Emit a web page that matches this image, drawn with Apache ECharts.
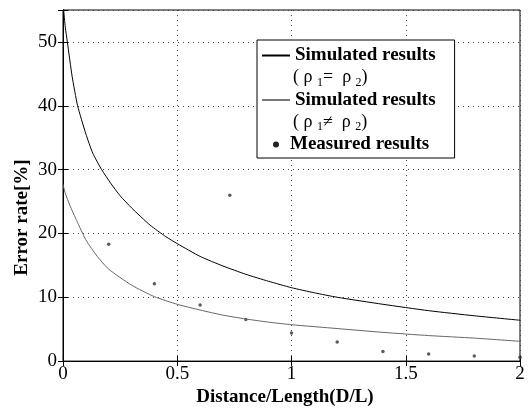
<!DOCTYPE html>
<html>
<head>
<meta charset="utf-8">
<script src="https://cdn.jsdelivr.net/npm/echarts@6/dist/echarts.min.js"></script>
<style>html,body{margin:0;padding:0;background:#fff}#c{width:528px;height:412px}</style>
</head>
<body>
<div id="c"></div>
<script>
// Simulated results (rho1 = rho2) — upper curve
const simEqX = [0.003, 0.01, 0.019, 0.04, 0.064, 0.1, 0.13, 0.169, 0.21, 0.25, 0.3, 0.381, 0.45, 0.5, 0.6, 0.7, 0.8, 0.9, 1.0, 1.1, 1.2, 1.4, 1.6, 1.8, 2.0];
const simEqY = [55, 52.3, 50, 44.6, 40, 35.6, 32.6, 30, 27.8, 25.9, 24.0, 21.3, 19.5, 18.4, 16.4, 14.9, 13.6, 12.5, 11.5, 10.7, 10.0, 8.9, 7.9, 7.1, 6.4];
// Simulated results (rho1 != rho2) — lower curve
const simNeX = [0, 0.01, 0.03, 0.06, 0.1, 0.15, 0.2, 0.3, 0.4, 0.5, 0.6, 0.7, 0.8, 0.9, 1.0, 1.2, 1.4, 1.6, 1.8, 2.0];
const simNeY = [27.7, 26.3, 24.4, 22.0, 19.0, 16.4, 14.4, 11.9, 10.1, 8.9, 8.0, 7.2, 6.6, 6.1, 5.7, 5.1, 4.5, 4.0, 3.6, 3.1];
// Measured results
const measX = [0.2, 0.4, 0.6, 0.73, 0.8, 1.0, 1.2, 1.4, 1.6, 1.8, 2.0];
const measY = [18.3, 12.1, 8.8, 26.0, 6.5, 4.4, 3.0, 1.5, 1.1, 0.8, 0.6];
// Axes
const xTicks = [0, 0.5, 1, 1.5, 2];
const yTicks = [0, 10, 20, 30, 40, 50];
const legendNames = ['Simulated results (ρ1=ρ2)', 'Simulated results (ρ1≠ρ2)', 'Measured results'];

const zip = (xs, ys) => xs.map((x, i) => [x, ys[i]]);
const serif = 'Liberation Serif, Times New Roman, serif';

const chart = echarts.init(document.getElementById('c'), null, {renderer: 'canvas'});
const rich = {
  ln1: {width: 28, height: 2, backgroundColor: '#000'},
  ln2: {width: 28, height: 2, backgroundColor: '#777'},
  dot: {width: 6, height: 6, borderRadius: 3, backgroundColor: '#222'},
  g5: {width: 5},
  g33: {width: 31},
  g11: {width: 11},
  t: {fontFamily: serif, fontWeight: 'bold', fontSize: 19, color: '#000', lineHeight: 22},
  p: {fontFamily: serif, fontSize: 18, color: '#000', lineHeight: 22},
  s: {fontFamily: serif, fontSize: 12, color: '#000', lineHeight: 22, verticalAlign: 'bottom', padding: [8, 0, 0, 0]}
};
const fmt = {};
fmt[legendNames[0]] = '{ln1|}{g5|}{t|Simulated results}\n{g33|}{p|( ρ }{s|1}{p|=  ρ }{s|2}{p|)}';
fmt[legendNames[1]] = '{ln2|}{g5|}{t|Simulated results}\n{g33|}{p|( ρ }{s|1}{p|≠  ρ }{s|2}{p|)}';
fmt[legendNames[2]] = '{g11|}{dot|}{g11|}{t|Measured results}';

const axisCommonX = {
  type: 'value', min: 0, max: 2, interval: 0.5,
  axisLine: {show: true, lineStyle: {color: '#000', width: 1}},
  axisTick: {show: true, inside: true, length: 5, lineStyle: {color: '#000'}}
};
const axisCommonY = {
  type: 'value', min: 0, max: 55, interval: 10,
  axisLine: {show: true, lineStyle: {color: '#000', width: 1}},
  axisTick: {show: true, inside: true, length: 5, lineStyle: {color: '#000'}}
};

chart.setOption({
  animation: false,
  backgroundColor: '#fff',
  grid: {left: 63, right: 8, top: 10, bottom: 43, show: true, borderColor: '#000', borderWidth: 1, backgroundColor: 'transparent'},
  legend: {
    orient: 'vertical', left: 257, top: 40,
    itemWidth: 0, itemHeight: 0, itemGap: 2,
    padding: [6, 19, 4, 0],
    borderColor: '#000', borderWidth: 1, backgroundColor: '#fff',
    selectedMode: false,
    data: legendNames.map(n => ({name: n, icon: 'none'})),
    formatter: n => fmt[n],
    textStyle: {rich: rich, fontFamily: serif}
  },
  xAxis: [
    Object.assign({}, axisCommonX, {
      position: 'bottom',
      name: 'Distance/Length(D/L)', nameLocation: 'middle', nameGap: 17,
      nameTextStyle: {fontFamily: serif, fontWeight: 'bold', fontSize: 19, color: '#000', padding: [0, 13, 0, 0]},
      axisLabel: {fontFamily: serif, fontSize: 19, color: '#000', margin: 3,
        formatter: v => xTicks.indexOf(v) >= 0 ? String(v) : ''},
      splitLine: {show: true, lineStyle: {color: '#444', type: [1, 4], width: 1}}
    }),
    Object.assign({}, axisCommonX, {position: 'top', axisLabel: {show: false}, splitLine: {show: false}})
  ],
  yAxis: [
    Object.assign({}, axisCommonY, {
      position: 'left',
      name: 'Error rate[%]', nameLocation: 'middle', nameGap: 31, nameMoveOverlap: false,
      nameTextStyle: {fontFamily: serif, fontWeight: 'bold', fontSize: 19, color: '#000', padding: [0, 64, 0, 0]},
      axisLabel: {fontFamily: serif, fontSize: 19, color: '#000', margin: 6,
        formatter: v => yTicks.indexOf(v) >= 0 ? String(v) : ''},
      splitLine: {show: true, lineStyle: {color: '#444', type: [1, 4], width: 1}}
    }),
    Object.assign({}, axisCommonY, {position: 'right', axisLabel: {show: false}, splitLine: {show: false}})
  ],
  series: [
    {name: legendNames[0], type: 'line', data: zip(simEqX, simEqY), showSymbol: false, symbol: 'none',
      smooth: 0.2, clip: true, lineStyle: {color: '#000', width: 1}, itemStyle: {color: '#000'}},
    {name: legendNames[1], type: 'line', data: zip(simNeX, simNeY), showSymbol: false, symbol: 'none',
      smooth: 0.2, clip: true, lineStyle: {color: '#666', width: 1}, itemStyle: {color: '#666'}},
    {name: legendNames[2], type: 'scatter', data: zip(measX, measY), symbol: 'circle', symbolSize: 3.5,
      itemStyle: {color: '#333'}}
  ]
});
</script>
</body>
</html>
